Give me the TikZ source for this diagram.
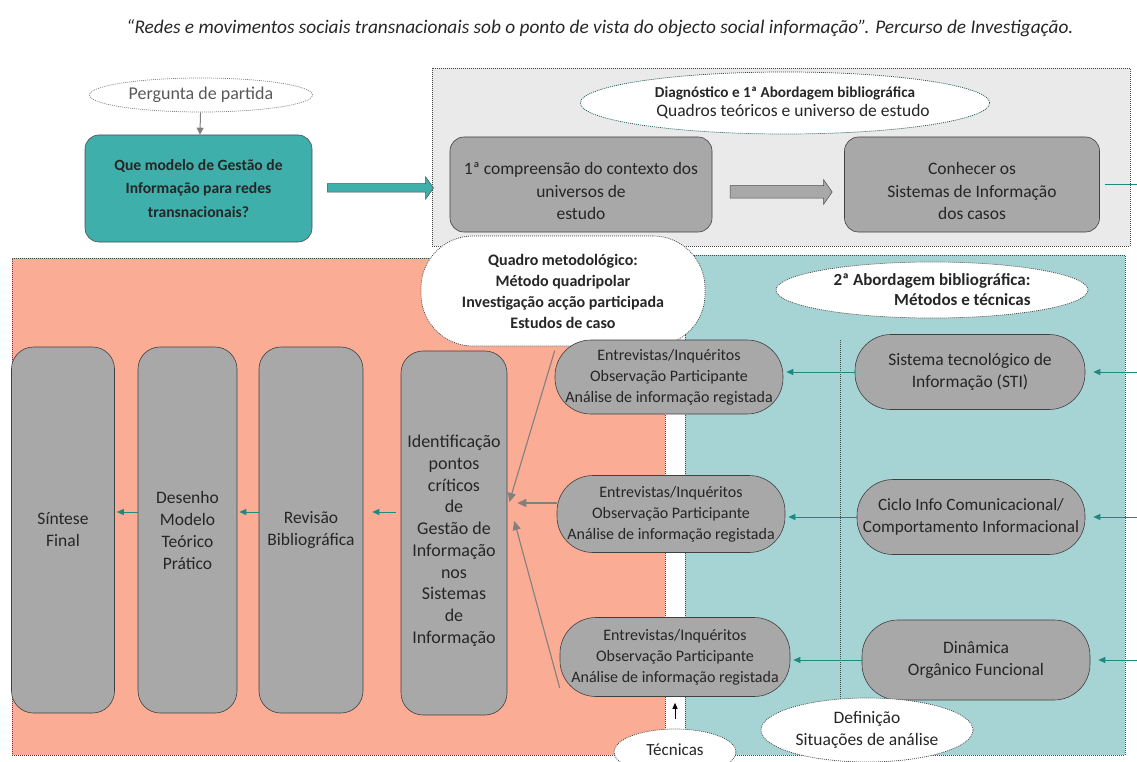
\documentclass[tikz,border=0pt]{standalone}
\usepackage{fontspec}
\setmainfont{Carlito}
\usetikzlibrary{arrows.meta,shapes.geometric,shapes.arrows,shapes.misc}
\definecolor{salmon}{RGB}{250,172,148}
\definecolor{tealpanel}{RGB}{166,212,212}
\definecolor{graypanel}{RGB}{234,234,234}
\definecolor{boxgray}{RGB}{168,168,168}
\definecolor{tealbox}{RGB}{62,175,170}
\definecolor{tealline}{RGB}{28,138,128}
\definecolor{ink}{RGB}{38,38,38}
\definecolor{dotgray}{RGB}{70,70,70}
\definecolor{arrowgray}{RGB}{128,128,128}
\newcommand{\lowerby}[1]{\rule{0pt}{#1}}
\begin{document}
\begin{tikzpicture}[x=1pt,y=-1pt,
  every node/.style={text=ink},
  panel/.style={draw=dotgray, line width=0.7pt, dash pattern=on 1pt off 1pt, rectangle, inner sep=0pt},
  bubble/.style={ellipse, fill=white, draw=dotgray, line width=0.7pt, dash pattern=on 1pt off 1pt, inner sep=0pt, align=center},
  graybox/.style={rectangle, rounded corners=14pt, fill=boxgray, draw=black!75, line width=0.6pt, align=center, inner sep=0pt, font=\fontsize{17.5}{22.5}\selectfont},
  pillar/.style={rectangle, rounded corners=22pt, fill=boxgray, draw=black!75, line width=0.6pt, align=center, inner sep=0pt, minimum height=366pt, font=\fontsize{17.5}{22}\selectfont},
  stadium/.style={rectangle, rounded corners=36pt, fill=boxgray, draw=black!75, line width=0.6pt, align=center, inner sep=0pt, minimum width=228pt, font=\fontsize{16}{21}\selectfont},
  tarrow/.style={draw=tealline, line width=1pt, -{Triangle[length=7pt,width=6pt]}},
  garrow/.style={draw=arrowgray, line width=1.1pt, -{Triangle[length=9pt,width=8pt]}},
  blockarrow/.style={single arrow, draw=black!70, line width=0.5pt, inner sep=0pt, single arrow tip angle=110}
]
\useasboundingbox (0,0) rectangle (1137,762);

% title line
\node[font=\fontsize{19.3}{21}\selectfont\itshape] (title) at (600,28) {“Redes e movimentos sociais transnacionais sob o ponto de vista do objecto social informação”. Percurso de Investigação.};

% background panels
\node[panel, fill=graypanel, minimum width=698pt, minimum height=178pt] (diag) at (781,157) {};
\node[panel, fill=salmon, minimum width=653pt, minimum height=497pt] (lab) at (338.5,506.5) {};
\node[panel, fill=tealpanel, draw=tealline!70!black, minimum width=440pt, minimum height=500pt] (met) at (905,505) {};

% starting question
\node[bubble, draw=arrowgray, minimum width=223pt, minimum height=34pt, font=\fontsize{18}{20}\selectfont, text=black!65] (perg) at (201,95) {Pergunta de partida};
\node[graybox, fill=tealbox, draw=black!70, minimum width=227pt, minimum height=107pt, font=\fontsize{15.6}{23.5}\selectfont\bfseries] (quest) at (198.5,188.5) {Que modelo de Gestão de\\Informação para redes\\transnacionais?};
\draw[draw=arrowgray, line width=1pt, -{Triangle[length=7pt,width=7pt]}] (perg) -- (quest);
\node[blockarrow, fill=tealbox, minimum height=106pt, single arrow head extend=7pt] (qarrow) at (379,188) {\rule{0pt}{8pt}};

% diagnostic stage
\node[bubble, draw=tealline!60!black, minimum width=350pt, minimum height=62pt] (diagb) at (785,103)
  {{\fontsize{15.2}{22}\selectfont\bfseries Diagnóstico e 1ª Abordagem bibliográfica}\\[3pt]{\fontsize{17.5}{22}\selectfont\hspace*{16pt}Quadros teóricos e universo de estudo}};
\node[graybox, minimum width=262pt, minimum height=95pt] (comp) at (581,184.5) {\lowerby{26pt}1ª compreensão do contexto dos\\universos de\\estudo};
\node[graybox, minimum width=255pt, minimum height=95pt] (conh) at (972,184.5) {\lowerby{26pt}Conhecer os\\Sistemas de Informação\\dos casos};
\node[blockarrow, fill=boxgray, minimum height=102pt, single arrow head extend=6pt] (carrow) at (779,192) {\rule{0pt}{12pt}};
\coordinate (r0) at (1137,184.5);
\draw[draw=tealline, line width=1pt] (conh.east) ++(5,0) -- (r0);

% methodological frame
\node[bubble, rectangle, rounded corners=52pt, minimum width=284pt, minimum height=110pt, font=\fontsize{16}{21}\selectfont\bfseries] (quadro) at (563,291)
  {Quadro metodológico:\\Método quadripolar\\Investigação acção participada\\Estudos de caso};
\node[bubble, minimum width=312pt, minimum height=56pt, align=right, font=\fontsize{17}{20}\selectfont\bfseries] (abord) at (932,290)
  {2ª Abordagem bibliográfica:\\Métodos e técnicas};

% analysis situations
\node[stadium, minimum width=230pt, minimum height=75pt, font=\fontsize{17.5}{22}\selectfont] (sti) at (970,372) {Sistema tecnológico de\\Informação (STI)};
\node[stadium, minimum width=228pt, minimum height=75pt, font=\fontsize{17.2}{22}\selectfont] (ciclo) at (971,517) {Ciclo Info Comunicacional/\\Comportamento Informacional};
\node[stadium, minimum width=228pt, minimum height=80pt, font=\fontsize{17.5}{22}\selectfont] (din) at (976,660) {Dinâmica\\Orgânico Funcional};

% techniques
\node[stadium, minimum height=74pt] (e1) at (669,377) {Entrevistas/Inquéritos\\Observação Participante\\Análise de informação registada};
\node[stadium, minimum height=77pt] (e2) at (671,514) {Entrevistas/Inquéritos\\Observação Participante\\Análise de informação registada};
\node[stadium, minimum width=230pt, minimum height=79pt] (e3) at (675,657) {Entrevistas/Inquéritos\\Observação Participante\\Análise de informação registada};

% divider between techniques and situations
\coordinate (d1) at (840,340);
\coordinate (d2) at (840,735);
\draw[draw=dotgray, line width=0.7pt, dash pattern=on 1pt off 1pt] (d1) -- (d2);

% bottom labels
\node[bubble, minimum width=212pt, minimum height=64pt, font=\fontsize{17.5}{22}\selectfont] (defin) at (867,730) {Definição\\Situações de análise};
\node[bubble, minimum width=122pt, minimum height=46pt, font=\fontsize{17}{18}\selectfont] (tecn) at (675,752) {\raisebox{4pt}{Técnicas}};
\draw[draw=black, line width=1pt, -{Triangle[length=6pt,width=5pt]}, shorten <=10pt, shorten >=6pt] (tecn.north) -- (e3.south);

% synthesis columns
\node[pillar, minimum width=103pt] (sint) at (63,530) {Síntese\\Final};
\node[pillar, minimum width=99pt] (des) at (187.5,530) {Desenho\\Modelo\\Teórico\\Prático};
\node[pillar, minimum width=104pt] (rev) at (311,530) {Revisão\\Bibliográfica};
\node[pillar, minimum width=106pt, minimum height=364pt, font=\fontsize{18}{21.7}\selectfont] (ident) at (454,533) {\lowerby{28pt}Identificação\\pontos\\críticos\\de\\Gestão de\\Informação\\nos\\Sistemas\\de\\Informação};

% flow arrows
\coordinate (ya) at (0,512);
\draw[tarrow, shorten >=2pt] (des.west |- ya) -- (sint.east |- ya);
\draw[tarrow, shorten >=2pt] (rev.west |- ya) -- (des.east |- ya);
\draw[tarrow, shorten <=5pt, shorten >=9pt] (ident.west |- ya) -- (rev.east |- ya);

\draw[tarrow, shorten >=3pt] (sti.west) -- (sti.west -| e1.east);
\draw[tarrow, shorten >=3pt] (ciclo.west) -- (ciclo.west -| e2.east);
\draw[tarrow, shorten >=3pt] (din.west) -- (din.west -| e3.east);

\coordinate (r1) at (1137,372);
\coordinate (r2) at (1137,517);
\coordinate (r3) at (1137,660);
\draw[tarrow, shorten >=8pt] (r1) -- (sti.east);
\draw[tarrow, shorten >=8pt] (r2) -- (ciclo.east);
\draw[tarrow, shorten >=8pt] (r3) -- (din.east);

\coordinate (ym) at (0,503);
\draw[garrow] (e1.167) -- ([yshift=31pt,xshift=2pt]ident.east);
\draw[garrow, shorten >=10pt] (e2.west |- ym) -- (ident.east |- ym);
\draw[garrow] (e3.195) -- ([yshift=12pt,xshift=7pt]ident.east);
\end{tikzpicture}
\end{document}
